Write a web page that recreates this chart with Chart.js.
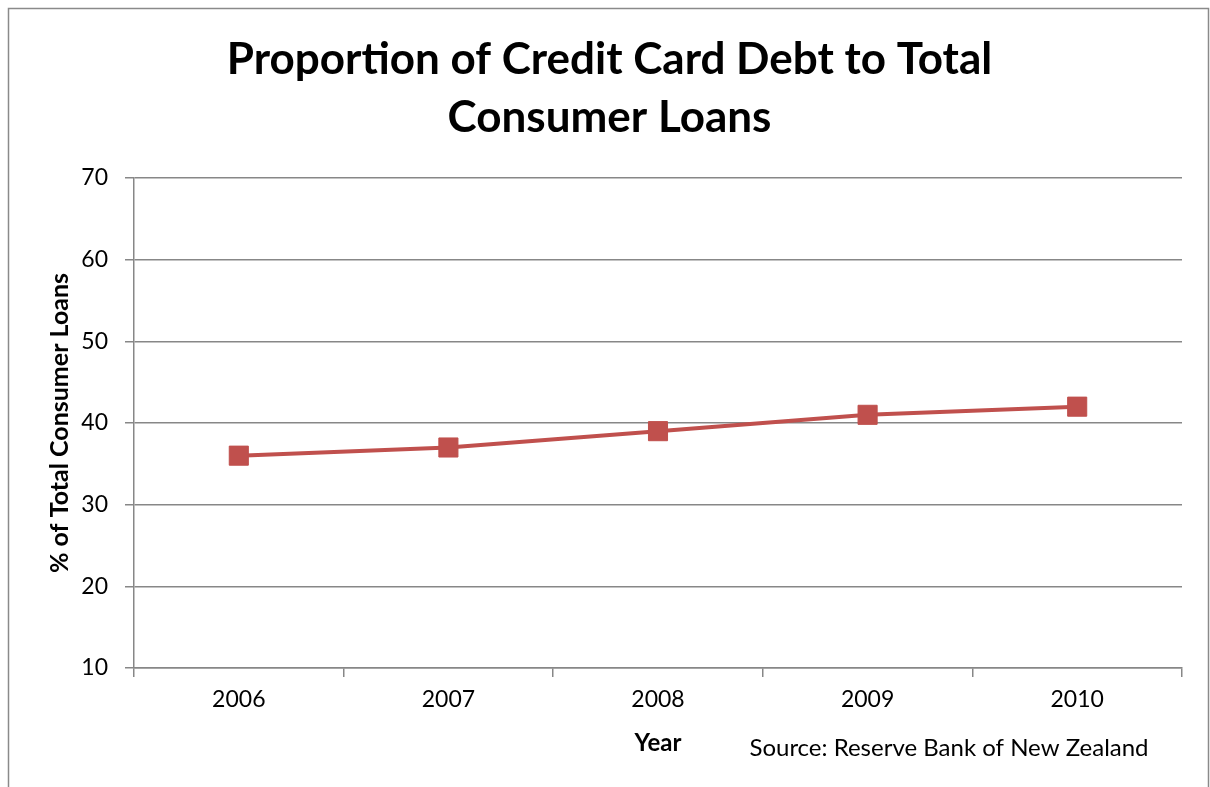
<!DOCTYPE html>
<html>
<head>
<meta charset="utf-8">
<title>Proportion of Credit Card Debt to Total Consumer Loans</title>
<script src="https://cdn.jsdelivr.net/npm/chart.js@4.4.1/dist/chart.umd.min.js"></script>
<style>
  html, body { margin: 0; padding: 0; background: #fff; }
  #wrap { width: 1210px; height: 787px; }
</style>
</head>
<body>
<div id="wrap"><canvas id="debtChart" width="1210" height="787"></canvas></div>
<script>
// datos del gráfico
const years = ['2006', '2007', '2008', '2009', '2010'];
const creditShare = [36, 37, 39, 41, 42];
const yTicks = [10, 20, 30, 40, 50, 60, 70];

const FONT = 'Lato, "Open Sans", sans-serif';
const GRID = '#878787';

// marco gris y nota de fuente
const framePlugin = {
    id: 'frame',
    beforeDraw(chart) {
        const ctx = chart.ctx;
        ctx.save();
        ctx.strokeStyle = '#8a8a8a';
        ctx.lineWidth = 1.5;
        ctx.strokeRect(8.5, 8.5, 1200, 800);
        ctx.restore();
    },
    afterDraw(chart) {
        const ctx = chart.ctx;
        ctx.save();
        ctx.fillStyle = '#000';
        ctx.font = '24px ' + FONT;
        ctx.textAlign = 'center';
        ctx.textBaseline = 'middle';
        ctx.fillText('Source: Reserve Bank of New Zealand', 949, 748);
        ctx.restore();
    }
};

function drawChart() {
    const ctx = document.getElementById('debtChart').getContext('2d');
    const chart = new Chart(ctx, {
        type: 'line',
        data: {
            labels: years,
            datasets: [{
                label: '% of Total Consumer Loans',
                data: creditShare,
                borderColor: '#C0504D',
                backgroundColor: '#C0504D',
                borderWidth: 4,
                pointStyle: 'rect',
                pointRadius: 13.5,
                pointBorderWidth: 1,
                pointBackgroundColor: '#C0504D',
                pointBorderColor: '#C0504D',
                tension: 0
            }]
        },
        options: {
            responsive: false,
            animation: false,
            layout: { padding: { left: 9, right: 0, top: 0, bottom: 0 } },
            plugins: {
                legend: { display: false },
                tooltip: { enabled: false },
                title: {
                    display: true,
                    text: ['Proportion of Credit Card Debt to Total', 'Consumer Loans'],
                    color: '#000',
                    font: { family: FONT, size: 44, weight: 'bold', lineHeight: 1.318 },
                    padding: { top: 31, bottom: 31 }
                }
            },
            scales: {
                x: {
                    offset: true,
                    grid: {
                        offset: true,
                        drawOnChartArea: false,
                        color: GRID,
                        lineWidth: 1.5,
                        tickLength: 9
                    },
                    border: { color: GRID, width: 1.5 },
                    ticks: {
                        color: '#000',
                        font: { family: FONT, size: 23 },
                        padding: 9
                    },
                    title: {
                        display: true,
                        text: 'Year',
                        color: '#000',
                        font: { family: FONT, size: 24, weight: 'bold', lineHeight: 1.2 },
                        padding: { top: 0, bottom: 29 }
                    },
                    afterFit(scale) { scale.height = 119; }
                },
                y: {
                    min: 10,
                    max: 70,
                    afterBuildTicks(scale) {
                        scale.ticks = yTicks.map(v => ({ value: v }));
                    },
                    grid: {
                        color: GRID,
                        lineWidth: 1.5,
                        tickLength: 9
                    },
                    border: { color: GRID, width: 1.5 },
                    ticks: {
                        color: '#000',
                        font: { family: FONT, size: 23 },
                        padding: 17
                    },
                    title: {
                        display: true,
                        text: '% of Total Consumer Loans',
                        color: '#000',
                        font: { family: FONT, size: 25, weight: 'bold', lineHeight: 1.2 },
                        padding: { top: 36, bottom: 0 }
                    },
                    afterFit(scale) { scale.width = 125; }
                },
                // margen derecho vacío
                yRight: {
                    position: 'right',
                    display: true,
                    grid: { display: false },
                    border: { display: false },
                    ticks: { display: false },
                    afterFit(scale) { scale.width = 28; }
                }
            }
        },
        plugins: [framePlugin]
    });
    return chart;
}

drawChart();
</script>
</body>
</html>
